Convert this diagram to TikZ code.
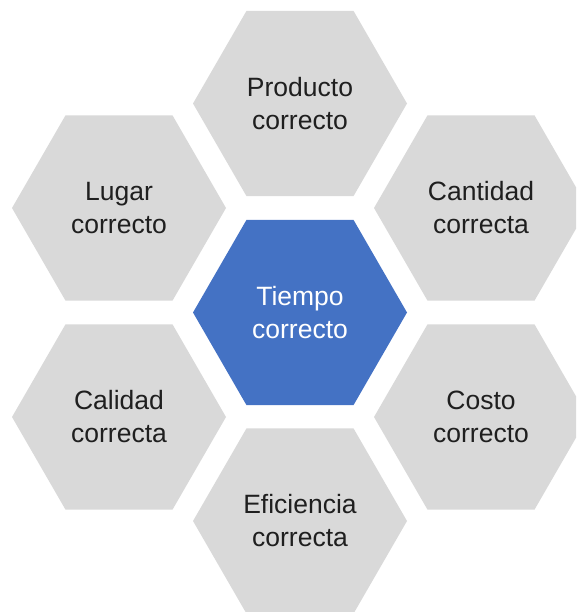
\documentclass[tikz,border=0pt]{standalone}
\usepackage{fontspec}
\setmainfont{Liberation Sans}
\usetikzlibrary{shapes.geometric}
\definecolor{hexgray}{HTML}{D9D9D9}
\definecolor{hexblue}{HTML}{4472C4}
\definecolor{txtdark}{HTML}{1F1F1F}
\tikzset{
  hexbox/.style={regular polygon, regular polygon sides=6, minimum size=214pt,
    inner sep=0pt, draw=none, fill=hexgray, text=txtdark, align=center,
    font=\fontsize{26.5}{33}\selectfont},
  hexcenter/.style={hexbox, fill=hexblue, text=white}
}
\begin{document}
\begin{tikzpicture}[x=1pt,y=-1pt]
\useasboundingbox (0,0) rectangle (576,612);
\clip (0,0) rectangle (576,612);
\node[hexcenter] (tiempo) at (300,312.5) {Tiempo\\correcto};
\node[hexbox] (producto) at (300,103.5) {Producto\\correcto};
\node[hexbox] (lugar) at (119,208) {Lugar\\correcto};
\node[hexbox] (cantidad) at (481,208) {Cantidad\\correcta};
\node[hexbox] (calidad) at (119,417) {Calidad\\correcta};
\node[hexbox] (costo) at (481,417) {Costo\\correcto};
\node[hexbox] (eficiencia) at (300,521) {Eficiencia\\correcta};
\end{tikzpicture}
\end{document}
